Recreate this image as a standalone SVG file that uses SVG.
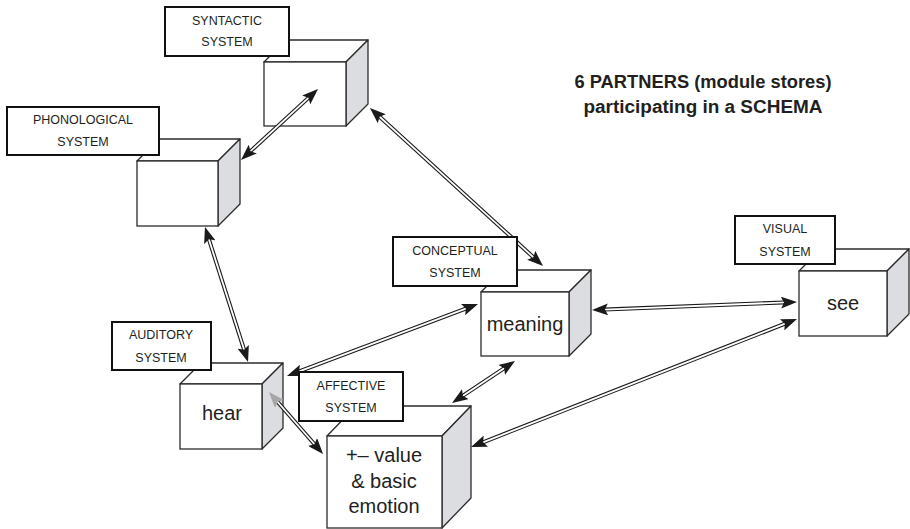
<svg xmlns="http://www.w3.org/2000/svg" width="910" height="529" viewBox="0 0 910 529">
  <style>
    .front { fill: #ffffff; stroke: #2b2b2b; stroke-width: 1.3; }
    .top { fill: #ffffff; stroke: #2b2b2b; stroke-width: 1.3; stroke-linejoin: round; }
    .side { fill: #dcdde0; stroke: #2b2b2b; stroke-width: 1.3; stroke-linejoin: round; }
    .label rect { fill: #ffffff; stroke: #111111; stroke-width: 2; }
    .label text { font-family: "Liberation Sans", Arial, sans-serif; font-size: 12.5px; fill: #231f20; text-anchor: middle; }
    .content { font-family: "Liberation Sans", Arial, sans-serif; font-size: 20px; fill: #231f20; text-anchor: middle; }
    .title { font-family: "Liberation Sans", Arial, sans-serif; font-size: 18px; font-weight: bold; fill: #231f20; text-anchor: middle; }
    .rail { fill: none; stroke: #1a1a1a; stroke-width: 4; }
    .core { fill: none; stroke: #ffffff; stroke-width: 1.8; marker-start: url(#head); marker-end: url(#head); }
  </style>
  <defs>
    <marker id="head" markerUnits="userSpaceOnUse" viewBox="0 0 16 12" refX="10" refY="6" markerWidth="16" markerHeight="12" orient="auto-start-reverse">
      <path d="M0,0 L16,6 L0,12 L3,6 z" fill="#1a1a1a"/>
    </marker>
    <marker id="headGray" markerUnits="userSpaceOnUse" viewBox="0 0 16 12" refX="10" refY="6" markerWidth="16" markerHeight="12" orient="auto-start-reverse">
      <path d="M0,0 L16,6 L0,12 L3,6 z" fill="#a6a6a6"/>
    </marker>
  </defs>

  <rect width="910" height="529" fill="#ffffff"/>

  <!-- title -->
  <text class="title" x="703" y="88" textLength="257" lengthAdjust="spacingAndGlyphs">6 PARTNERS (module stores)</text>
  <text class="title" x="703" y="113" textLength="239" lengthAdjust="spacingAndGlyphs">participating in a SCHEMA</text>

  <!-- module cubes: front face, top face, side face -->
  <g id="syntactic-cube">
    <polygon class="top" points="264,62 286,40 368,40 346,62"/>
    <polygon class="side" points="346,62 368,40 368,104 346,126"/>
    <rect class="front" x="264" y="62" width="82" height="64"/>
  </g>
  <g id="phonological-cube">
    <polygon class="top" points="137,161 159,139 240,139 218,161"/>
    <polygon class="side" points="218,161 240,139 240,204 218,226"/>
    <rect class="front" x="137" y="161" width="81" height="65"/>
  </g>
  <g id="conceptual-cube">
    <polygon class="top" points="481,292 503,270 591,270 569,292"/>
    <polygon class="side" points="569,292 591,270 591,334 569,356"/>
    <rect class="front" x="481" y="292" width="88" height="64"/>
    <text class="content" x="525" y="331">meaning</text>
  </g>
  <g id="visual-cube">
    <polygon class="top" points="799,271 821,249 909,249 887,271"/>
    <polygon class="side" points="887,271 909,249 909,314 887,336"/>
    <rect class="front" x="799" y="271" width="88" height="65"/>
    <text class="content" x="843" y="310">see</text>
  </g>
  <g id="auditory-cube">
    <polygon class="top" points="180,384 201,363 283,363 262,384"/>
    <polygon class="side" points="262,384 283,363 283,428 262,449"/>
    <rect class="front" x="180" y="384" width="82" height="65"/>
    <text class="content" x="222" y="420">hear</text>
  </g>
  <g id="affective-cube">
    <polygon class="top" points="327,436 356,406 471,406 442,436"/>
    <polygon class="side" points="442,436 471,406 471,498 442,528"/>
    <rect class="front" x="327" y="436" width="115" height="92"/>
    <text class="content" x="384" y="462">+– value</text>
    <text class="content" x="384" y="488">&amp; basic</text>
    <text class="content" x="384" y="513">emotion</text>
  </g>

  <!-- two-way connectors: dark rail with white core, arrowheads at both ends -->
  <g id="connectors">
    <path class="rail" d="M313.6,93.1 L245.4,155.9"/>
    <path class="core" d="M313.6,93.1 L245.4,155.9"/>
    <path class="rail" d="M374.4,112 L538.6,262"/>
    <path class="core" d="M374.4,112 L538.6,262"/>
    <path class="rail" d="M206.8,232.7 L246.2,356.3"/>
    <path class="core" d="M206.8,232.7 L246.2,356.3"/>
    <path class="rail" d="M292.6,373.9 L472.4,306.1"/>
    <path class="core" d="M292.6,373.9 L472.4,306.1"/>
    <path class="rail" d="M598,309.8 L791,302.2"/>
    <path class="core" d="M598,309.8 L791,302.2"/>
    <path class="rail" d="M476.6,444.8 L791.4,321.2"/>
    <path class="core" d="M476.6,444.8 L791.4,321.2"/>
    <path class="rail" d="M510,364.3 L457,399.7"/>
    <path class="core" d="M510,364.3 L457,399.7"/>
    <path class="rail" d="M272.9,396.5 L319.1,449.5"/>
    <path class="core" d="M272.9,396.5 L319.1,449.5" style="marker-start: url(#headGray)"/>
  </g>

  <!-- system labels -->
  <g id="syntactic-label" class="label">
    <rect x="165" y="7" width="124" height="49"/>
    <text x="227" y="25">SYNTACTIC</text>
    <text x="227" y="46">SYSTEM</text>
  </g>
  <g id="phonological-label" class="label">
    <rect x="7" y="107" width="152" height="48"/>
    <text x="83" y="124">PHONOLOGICAL</text>
    <text x="83" y="146">SYSTEM</text>
  </g>
  <g id="conceptual-label" class="label">
    <rect x="393" y="237" width="124" height="49"/>
    <text x="455" y="255">CONCEPTUAL</text>
    <text x="455" y="277">SYSTEM</text>
  </g>
  <g id="visual-label" class="label">
    <rect x="735" y="216" width="100" height="48"/>
    <text x="785" y="233">VISUAL</text>
    <text x="785" y="256">SYSTEM</text>
  </g>
  <g id="auditory-label" class="label">
    <rect x="112" y="322" width="99" height="48"/>
    <text x="161" y="339">AUDITORY</text>
    <text x="161" y="362">SYSTEM</text>
  </g>
  <g id="affective-label" class="label">
    <rect x="299" y="372" width="104" height="49"/>
    <text x="351" y="390">AFFECTIVE</text>
    <text x="351" y="412">SYSTEM</text>
  </g>
</svg>
